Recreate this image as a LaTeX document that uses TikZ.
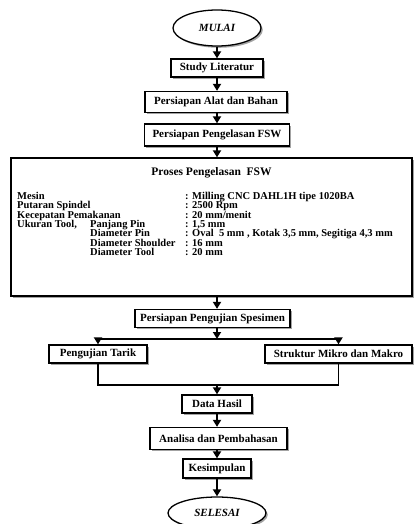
\documentclass[tikz,border=0pt]{standalone}
\usepackage{fontspec}
\setmainfont{Liberation Serif}
\usetikzlibrary{arrows.meta, positioning, shapes.geometric, shadows}

\begin{document}
\begin{tikzpicture}[x=1pt, y=-1pt,
    font=\fontsize{11}{12}\selectfont\bfseries,
    kotak/.style={draw, line width=1.3pt, fill=white, inner sep=0pt,
                  drop shadow={shadow xshift=1.8pt, shadow yshift=-1.8pt, fill=black!45, opacity=0.8}},
    oval/.style={kotak, ellipse, font=\fontsize{11}{12}\selectfont\bfseries\itshape},
    panah/.style={line width=1.8pt, -{Triangle[length=7pt, width=8pt]}},
    garis/.style={line width=1.8pt},
    isi/.style={anchor=base west, inner sep=0pt, font=\fontsize{10.5}{12}\selectfont\bfseries}]
  \useasboundingbox (0,0) rectangle (416,524);

  % Start and preparation
  \node[oval, minimum width=88pt, minimum height=36pt] (mulai) at (217,28) {MULAI};
  \node[kotak, minimum width=92pt, minimum height=18pt] (studi) at (217,68) {Study Literatur};
  \node[kotak, minimum width=142pt, minimum height=21pt] (alat) at (216,102) {Persiapan Alat dan Bahan};
  \node[kotak, minimum width=145pt, minimum height=22pt] (fsw) at (217,135) {Persiapan Pengelasan FSW};
  \draw[panah] (mulai) -- (studi);
  \draw[panah] (studi) -- (studi |- alat.north);
  \draw[panah] (alat.south -| studi) -- (studi |- fsw.north);

  % Welding process box
  \node[kotak, minimum width=401pt, minimum height=138pt] (proses) at (211.5,227) {};
  \draw[panah] (fsw) -- (fsw |- proses.north);
  \node[font=\fontsize{11.5}{12}\selectfont\bfseries] (judul) at (211.5,173) {Proses Pengelasan\ \ FSW};

  \node[isi] (mesin) at (17,199.5) {Mesin};
  \node[isi] (putaran) at (17,208.8) {Putaran Spindel};
  \node[isi] (kecepatan) at (17,218.1) {Kecepatan Pemakanan};
  \node[isi] (ukuran) at (17,227.4) {Ukuran Tool,};
  \node[isi] (panjang) at (90,227.4) {Panjang Pin};
  \node[isi] (dpin) at (90,236.7) {Diameter Pin};
  \node[isi] (dshoulder) at (90,246) {Diameter Shoulder};
  \node[isi] (dtool) at (90,255.3) {Diameter Tool};

  \node[isi] (vmesin) at (185,199.5) {: Milling CNC DAHL1H tipe 1020BA};
  \node[isi] (vputaran) at (185,208.8) {: 2500 Rpm};
  \node[isi] (vkecepatan) at (185,218.1) {: 20 mm/menit};
  \node[isi] (vpanjang) at (185,227.4) {: 1,5 mm};
  \node[isi] (vdpin) at (185,236.7) {: Oval\ \ 5 mm , Kotak 3,5 mm, Segitiga 4,3 mm};
  \node[isi] (vdshoulder) at (185,246) {: 16 mm};
  \node[isi] (vdtool) at (185,255.3) {: 20 mm};

  % Testing
  \node[kotak, minimum width=155pt, minimum height=18pt] (spesimen) at (212.5,318.5) {Persiapan Pengujian Spesimen};
  \draw[panah] (proses.south -| fsw) -- (fsw |- spesimen.north);

  \node[kotak, minimum width=98pt, minimum height=18pt] (tarik) at (98,354) {Pengujian Tarik};
  \node[kotak, minimum width=147pt, minimum height=18pt] (mikro) at (338.5,354) {Struktur Mikro dan Makro};
  \coordinate (cabang) at (217,339);
  \coordinate (gabung) at (217,385);
  \draw[panah] (spesimen.south -| cabang) -- (cabang);
  \draw[panah] (cabang) -| (tarik.north);
  \draw[panah] (cabang) -| (mikro.north);
  \draw[garis] (tarik.south) |- (gabung);
  \draw[garis] (mikro.south) |- (gabung);

  % Results and end
  \node[kotak, minimum width=70pt, minimum height=18pt] (data) at (217,404) {Data Hasil};
  \node[kotak, minimum width=137pt, minimum height=22pt] (analisa) at (218.5,438.5) {Analisa dan Pembahasan};
  \node[kotak, minimum width=68pt, minimum height=19pt] (kesimpulan) at (217,468.5) {Kesimpulan};
  \node[oval, minimum width=98pt, minimum height=32pt] (selesai) at (217,513) {SELESAI};
  \draw[panah] (gabung) -- (data);
  \draw[panah] (data) -- (data |- analisa.north);
  \draw[panah] (analisa.south -| data) -- (kesimpulan);
  \draw[panah] (kesimpulan) -- (selesai);
\end{tikzpicture}
\end{document}
